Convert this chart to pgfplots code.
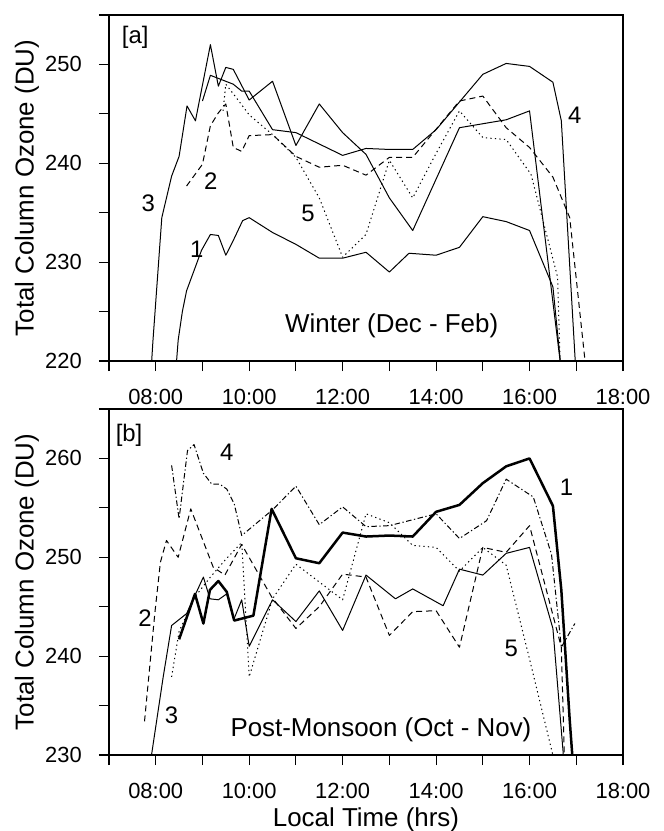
\documentclass[border=0pt]{standalone}
\usepackage{fontspec}
\setmainfont{Liberation Sans}
\usepackage{pgfplots}
\pgfplotsset{compat=1.18}
\tikzset{
  lab/.style={font=\fontsize{24}{28}\selectfont, inner sep=0pt},
  dsh/.style={dash pattern=on 6bp off 4bp},
  dtt/.style={dash pattern=on 1.3bp off 3.2bp},
  dshdt/.style={dash pattern=on 5.5bp off 2.5bp on 1.3bp off 2.5bp},
}
\pgfplotsset{
  panel/.style={
    scale only axis, width=514bp, height=346bp,
    xmin=7, xmax=18,
    xtick={8,10,12,14,16,18},
    xticklabels={08:00,10:00,12:00,14:00,16:00,18:00},
    minor xtick={7,9,11,13,15,17},
    axis line style={line width=1.3bp},
    tick style={line width=1.1bp, black},
    tick align=outside,
    major tick length=10bp, minor tick length=10bp,
    xtick pos=bottom, ytick pos=left,
    /pgf/number format/assume math mode=true,
    tick label style={font=\fontsize{22}{26}\selectfont},
    xticklabel style={inner sep=0pt, anchor=center, yshift=-26bp},
    yticklabel style={inner sep=0pt, anchor=east, xshift=-17bp},
    label style={font=\fontsize{26}{30}\selectfont},
    ylabel={Total Column Ozone (DU)},
    ylabel style={at={(axis description cs:-0.1595,0.5)}, anchor=center},
    cycle list={{black, mark=none}},
    every axis plot/.append style={black, line width=1bp, line join=round, mark=none},
    anchor=south west,
  },
}
\begin{document}
\begin{tikzpicture}
\useasboundingbox (-109bp,-470bp) rectangle (555bp,361bp);
% ---------------- panel a ----------------
\begin{axis}[panel, at={(0,0)},
  ymin=220, ymax=255,
  ytick={220,230,240,250}, minor ytick={225,235,245,255}]
% curve 1
\addplot coordinates {(8.43,219) (8.48,222.1) (8.57,225.0) (8.66,227.1) (8.98,231.2) (9.17,232.8) (9.34,232.7) (9.5,230.7) (9.66,232.2) (9.86,234.2) (10.0,234.5) (10.5,233.0) (11.0,231.8) (11.5,230.4) (12.0,230.4) (12.5,231.0) (13.0,229.0) (13.42,230.9) (14.0,230.7) (14.5,231.5) (15.0,234.6) (15.5,234.1) (16.0,233.2) (16.5,227.5) (16.68,219)};
% curve 3
\addplot coordinates {(7.9,219) (7.94,222) (8.13,234.5) (8.34,238.7) (8.5,240.7) (8.67,245.8) (8.85,244.3) (9.17,252.0) (9.34,247.8) (9.5,249.7) (9.66,249.5) (10.0,246.4) (10.5,248.3) (11.0,241.8) (11.5,246.0) (12.0,243.1) (12.5,240.9) (13.0,236.5) (13.5,233.2) (14.5,243.6) (15.5,244.4) (16.0,245.3) (16.68,219)};
% curve 4
\addplot coordinates {(9.0,246.3) (9.17,248.9) (9.66,248.0) (9.84,247.3) (10.0,247.3) (10.5,243.4) (11.0,243.1) (12.0,240.8) (12.5,241.5) (13.0,241.4) (13.5,241.4) (14.0,243.4) (15.0,249.0) (15.5,250.1) (16.0,249.8) (16.5,248.2) (16.68,244.3) (16.99,219)};
% curve 2
\addplot[dsh] coordinates {(8.66,237.7) (9.0,239.9) (9.17,243.8) (9.34,245.1) (9.5,246.0) (9.66,241.6) (9.84,241.2) (10.0,242.8) (10.5,242.9) (11.0,240.7) (11.5,239.6) (12.0,239.8) (12.5,238.8) (13.0,240.6) (13.5,240.6) (14.5,246.3) (15.0,246.8) (15.5,243.6) (16.0,241.6) (16.5,238.6) (16.86,234.5) (17.21,219)};
% curve 5
\addplot[dtt] coordinates {(9.44,245.3) (9.5,248.0) (9.73,246.6) (10.0,244.9) (10.5,242.9) (11.0,240.6) (11.5,236.5) (12.0,230.5) (12.5,232.8) (13.0,240.3) (13.5,236.5) (14.0,241.0) (14.5,245.3) (15.0,242.6) (15.5,242.4) (16.03,238.9) (16.6,228.5) (16.66,219)};
\node[lab] at (axis cs:7.56,252.7) {[a]};
\node[lab] at (axis cs:8.88,231.3) {1};
\node[lab] at (axis cs:9.18,238.2) {2};
\node[lab] at (axis cs:7.84,236.0) {3};
\node[lab] at (axis cs:16.97,244.9) {4};
\node[lab] at (axis cs:11.26,234.9) {5};
\node[font=\fontsize{26}{30}\selectfont, inner sep=0pt] at (axis cs:13.05,223.6) {Winter (Dec - Feb)};
\end{axis}
% ---------------- panel b ----------------
\begin{axis}[panel, at={(0,-394bp)},
  ymin=230, ymax=265,
  ytick={230,240,250,260}, minor ytick={235,245,255,265},
  xlabel={Local Time (hrs)},
  xlabel style={at={(axis description cs:0.5,0)}, anchor=center, yshift=-65bp}]
% curve 1 (thick)
\addplot[line width=2.5bp] coordinates {(8.5,241.7) (8.84,246.3) (9.02,243.3) (9.16,246.7) (9.34,247.6) (9.52,246.5) (9.68,243.6) (10.09,244.1) (10.48,254.9) (11.0,249.9) (11.5,249.4) (12.0,252.5) (12.5,252.1) (13.0,252.2) (13.5,252.1) (14.0,254.6) (14.5,255.3) (15.0,257.5) (15.5,259.2) (16.0,260.0) (16.5,255.2) (16.68,246.7) (16.86,233.5) (16.93,229)};
% curve 3
\addplot coordinates {(7.88,229) (7.91,230) (8.16,237.9) (8.34,243.1) (8.66,244.3) (9.02,248.0) (9.16,245.8) (9.34,245.7) (9.52,246.3) (9.67,243.7) (9.84,245.7) (10.0,241.0) (10.5,245.7) (11.0,243.5) (11.5,246.6) (12.0,242.6) (12.5,248.2) (13.13,245.8) (13.5,246.8) (14.15,245.1) (14.5,248.8) (15.0,248.2) (15.5,250.4) (16.0,251.0) (16.5,242.8) (16.72,230.2) (16.73,229)};
% curve 2
\addplot[dsh] coordinates {(7.76,233.4) (7.98,244.3) (8.1,249.5) (8.23,251.7) (8.48,250.0) (8.75,254.9) (9.23,249.0) (9.48,248.2) (9.84,251.3) (10.48,246.0) (11.0,242.8) (11.5,245.0) (12.0,248.3) (12.5,248.0) (13.0,242.1) (13.5,244.5) (14.0,244.6) (14.5,240.9) (15.0,251.0) (15.5,250.5) (16.0,253.2) (16.68,240.9) (16.75,229)};
% curve 4
\addplot[dshdt] coordinates {(8.34,259.3) (8.5,253.9) (8.68,260.8) (8.82,261.4) (9.02,258.5) (9.2,257.4) (9.37,257.4) (9.52,256.9) (9.68,255.4) (9.84,252.2) (10.5,254.8) (11.0,257.2) (11.5,253.3) (12.0,255.1) (12.5,253.1) (13.0,253.2) (14.0,254.4) (14.5,251.9) (15.08,253.7) (15.5,257.9) (16.08,256.1) (16.47,250.3) (16.68,240.9) (16.97,243.3)};
% curve 5
\addplot[dtt] coordinates {(8.34,237.9) (8.5,242.5) (8.84,246.0) (9.17,248.0) (9.5,249.8) (9.84,251.5) (10.0,237.9) (10.5,245.8) (11.0,249.3) (12.0,245.7) (12.5,254.4) (13.0,253.5) (13.5,251.2) (14.0,251.0) (14.5,248.6) (15.0,251.0) (15.5,249.2) (16.0,239.7) (16.55,229)};
\node[lab] at (axis cs:7.43,262.3) {[b]};
\node[lab] at (axis cs:16.79,257.1) {1};
\node[lab] at (axis cs:7.77,243.8) {2};
\node[lab] at (axis cs:8.34,234.0) {3};
\node[lab] at (axis cs:9.52,260.6) {4};
\node[lab] at (axis cs:15.61,240.8) {5};
\node[font=\fontsize{26}{30}\selectfont, inner sep=0pt] at (axis cs:12.82,232.5) {Post-Monsoon (Oct - Nov)};
\end{axis}
\end{tikzpicture}
\end{document}
